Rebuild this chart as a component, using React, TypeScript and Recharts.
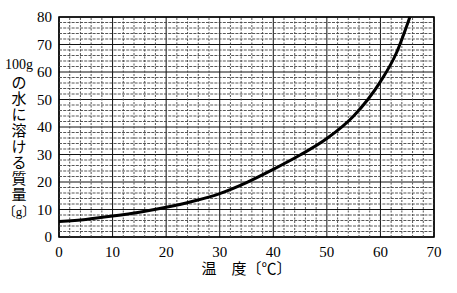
import { CartesianGrid, Label, Line, LineChart, ReferenceArea, ReferenceLine, XAxis, YAxis } from "recharts";

// 温度 (℃) と 100gの水に溶ける質量 (g)
const temps = [0, 5, 10, 15, 20, 25, 30, 35, 40, 45, 50, 55, 60, 63, 65.5];
const grams = [5.6, 6.4, 7.6, 9, 10.8, 13, 15.8, 19.8, 24.6, 29.8, 35.8, 44, 56.5, 67, 80];

const xTicks = [0, 10, 20, 30, 40, 50, 60, 70];
const yTicks = [0, 10, 20, 30, 40, 50, 60, 70, 80];
const xMinor = [2, 4, 6, 8, 12, 14, 16, 18, 22, 24, 26, 28, 32, 34, 36, 38, 42, 44, 46, 48, 52, 54, 56, 58, 62, 64, 66, 68];
const yMinor = [2, 4, 6, 8, 12, 14, 16, 18, 22, 24, 26, 28, 32, 34, 36, 38, 42, 44, 46, 48, 52, 54, 56, 58, 62, 64, 66, 68, 72, 74, 76, 78];

const yLabelHead = "100g";
const yLabelChars = ["の", "水", "に", "溶", "け", "る", "質", "量", "〔g〕"];
const xLabel = "温　度〔℃〕";

const data = temps.map((t, i) => ({ t, g: grams[i] }));

const FONT = "'Liberation Serif', 'Noto Sans CJK JP', serif";

function YLabel(props: any) {
  const vb = props.viewBox || { x: 0, y: 0 };
  const cx = vb.x + 19;
  return (
    <g fontFamily={FONT} fill="#000">
      <text x={cx} y={vb.y + 49} fontSize={14} textAnchor="middle" dominantBaseline="middle">
        {yLabelHead}
      </text>
      {yLabelChars.map((c, i) => (
        <text
          key={i}
          x={cx}
          y={vb.y + 68 + i * 16}
          fontSize={c.length > 1 ? 13 : 15}
          textAnchor="middle"
          dominantBaseline="middle"
        >
          {c}
        </text>
      ))}
    </g>
  );
}

export default function App() {
  return (
    <div style={{ position: "absolute", left: 0, top: 0, background: "#fff" }}>
      <LineChart width={457} height={293} data={data} margin={{ top: 17, right: 23, left: 0, bottom: 0 }}>
        <CartesianGrid stroke="#111" strokeWidth={1} />
        {xMinor.map((v) => (
          <ReferenceLine key={"x" + v} x={v} stroke="#444" strokeWidth={0.9} strokeDasharray="2 1.5" />
        ))}
        {yMinor.map((v) => (
          <ReferenceLine key={"y" + v} y={v} stroke="#444" strokeWidth={0.9} strokeDasharray="3 1.2" />
        ))}
        <ReferenceArea x1={0} x2={70} y1={0} y2={80} fill="none" stroke="#000" strokeWidth={1.6} />
        <XAxis
          dataKey="t"
          type="number"
          domain={[0, 70]}
          ticks={xTicks}
          axisLine={false}
          tickLine={false}
          tickSize={0}
          tickMargin={9}
          height={56}
          tick={{ fontSize: 15, fill: "#000", fontFamily: FONT }}
          interval={0}
        >
          <Label value={xLabel} position="insideTop" offset={26} style={{ fontSize: 15, fill: "#000", fontFamily: FONT }} />
        </XAxis>
        <YAxis
          type="number"
          domain={[0, 80]}
          ticks={yTicks}
          axisLine={false}
          tickLine={false}
          tickSize={0}
          tickMargin={7}
          width={59}
          tick={{ fontSize: 15, fill: "#000", fontFamily: FONT }}
          interval={0}
        >
          <Label content={<YLabel />} />
        </YAxis>
        <Line
          type="monotone"
          dataKey="g"
          stroke="#000"
          strokeWidth={3}
          dot={false}
          isAnimationActive={false}
        />
      </LineChart>
    </div>
  );
}
